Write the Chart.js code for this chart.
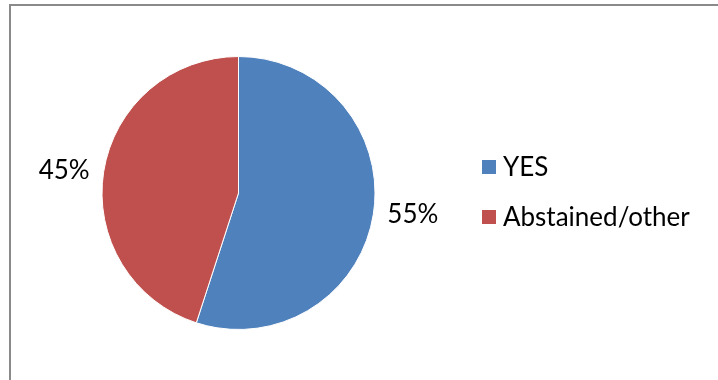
<!DOCTYPE html>
<html>
<head>
<meta charset="utf-8">
<script src="https://cdn.jsdelivr.net/npm/chart.js@4/dist/chart.umd.min.js"></script>
<style>
  html, body { margin: 0; padding: 0; background: #ffffff; }
  #wrap { width: 718px; height: 380px; }
</style>
</head>
<body>
<div id="wrap"><canvas id="chart" width="718" height="380"></canvas></div>
<script>
// Vote breakdown
const categories = ['YES', 'Abstained/other'];
const shares = [55, 45];
const sliceColors = ['#4F81BD', '#C0504D'];

const FONT = '26px Lato, "Liberation Sans", sans-serif';

// Grey frame around the chart area (open towards right/bottom edges)
const framePlugin = {
  id: 'frame',
  beforeDraw(chart) {
    const ctx = chart.ctx;
    ctx.save();
    ctx.fillStyle = '#ffffff';
    ctx.fillRect(0, 0, chart.width, chart.height);
    ctx.fillStyle = '#8a8a8a';
    ctx.fillRect(9, 4, 2, chart.height - 4);
    ctx.fillRect(9, 4, chart.width - 9, 2);
    ctx.restore();
  }
};

// Percentage labels outside each slice
const outsideLabels = {
  id: 'outsideLabels',
  afterDatasetsDraw(chart) {
    const ctx = chart.ctx;
    const meta = chart.getDatasetMeta(0);
    const total = shares.reduce((a, b) => a + b, 0);
    ctx.save();
    ctx.font = FONT;
    ctx.fillStyle = '#000000';
    ctx.textAlign = 'center';
    ctx.textBaseline = 'middle';
    meta.data.forEach((arc, i) => {
      const p = arc.getProps(['x', 'y', 'startAngle', 'endAngle', 'outerRadius'], true);
      const mid = (p.startAngle + p.endAngle) / 2;
      const r = p.outerRadius + 40;
      const pct = Math.round(shares[i] / total * 100) + '%';
      ctx.fillText(pct, p.x + Math.cos(mid) * r, p.y + Math.sin(mid) * r * 0.8);
    });
    ctx.restore();
  }
};

// Legend on the right with square swatches
const sideLegend = {
  id: 'sideLegend',
  afterDraw(chart) {
    const ctx = chart.ctx;
    const x0 = 482, y0 = 167, gap = 50, box = 14;
    ctx.save();
    ctx.font = FONT;
    ctx.textAlign = 'left';
    ctx.textBaseline = 'middle';
    categories.forEach((name, i) => {
      const cy = y0 + i * gap;
      ctx.fillStyle = sliceColors[i];
      ctx.fillRect(x0, cy - box / 2, box, box);
      ctx.fillStyle = '#000000';
      ctx.fillText(name, x0 + 21, cy + 1);
    });
    ctx.restore();
  }
};

new Chart(document.getElementById('chart'), {
  type: 'pie',
  data: {
    labels: categories,
    datasets: [{
      data: shares,
      backgroundColor: sliceColors,
      borderColor: '#ffffff',
      borderWidth: 1,
      radius: 136.5
    }]
  },
  options: {
    responsive: false,
    animation: false,
    events: [],
    layout: { padding: { left: 100, right: 341, top: 55, bottom: 49 } },
    plugins: {
      legend: { display: false },
      tooltip: { enabled: false }
    }
  },
  plugins: [framePlugin, outsideLabels, sideLegend]
});
</script>
</body>
</html>
